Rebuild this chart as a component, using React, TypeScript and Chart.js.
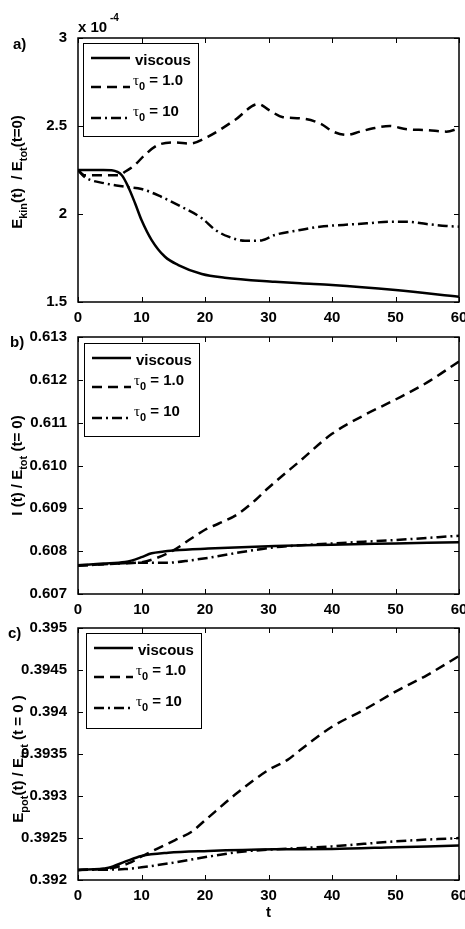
import React, { useEffect, useRef } from "react";
import { Chart, registerables } from "chart.js";
Chart.register(...registerables);

const SANS = '"Liberation Sans", Arial, Helvetica, sans-serif';
const SERIF = '"Liberation Serif", "DejaVu Serif", serif';

// ---------- x axis ----------
const X_MIN = 0;
const X_MAX = 60;
const X_STEP = 10;

// ---------- tick labels ----------
const ticksA = [1.5, 2, 2.5, 3];
const ticksB = [0.607, 0.608, 0.609, 0.61, 0.611, 0.612, 0.613];
const ticksC = [0.392, 0.3925, 0.393, 0.3935, 0.394, 0.3945, 0.395];

// ---------- legend labels ----------
const seriesNames = ["viscous", "1.0", "10"];

// ---------- panel a: E_kin(t)/E_tot(t=0), units of 1e-4 ----------
const tViscA = [0, 2, 4, 5.3, 6.9, 7.9, 9, 10, 11.6, 13.7, 15.8, 19.5, 23.1, 31, 35, 40, 50, 60];
const viscA = [2.25, 2.25, 2.25, 2.248, 2.22, 2.155, 2.06, 1.966, 1.852, 1.757, 1.71, 1.659, 1.638, 1.615, 1.606, 1.597, 1.568, 1.53];
const tTau1A = [0, 1, 3, 6.4, 7.4, 9, 10.5, 12.6, 15.3, 17.6, 20.5, 24.7, 28.4, 30.1, 32.3, 35, 38.1, 40.2, 42.3, 44.4, 46.5, 49.1, 51.8, 54.9, 58, 60];
const tau1A = [2.25, 2.22, 2.22, 2.22, 2.24, 2.28, 2.335, 2.392, 2.407, 2.4, 2.44, 2.534, 2.625, 2.59, 2.55, 2.544, 2.515, 2.468, 2.449, 2.468, 2.487, 2.5, 2.481, 2.477, 2.468, 2.487];
const tTau10A = [0, 1.1, 4.25, 7.4, 10, 13.1, 16.3, 19.5, 21.6, 23.7, 26.3, 28.9, 31, 35, 38.1, 41.8, 45.5, 49.1, 51.8, 54.9, 58, 60];
const tau10A = [2.25, 2.209, 2.174, 2.155, 2.142, 2.098, 2.041, 1.976, 1.91, 1.871, 1.848, 1.85, 1.881, 1.909, 1.928, 1.938, 1.947, 1.956, 1.956, 1.943, 1.932, 1.928];

// ---------- panel b: I(t)/E_tot(t=0) ----------
const tViscB = [0, 4, 7.4, 8.4, 10, 11.6, 13.5, 15.3, 20.5, 31, 40, 50, 60];
const viscB = [0.60767, 0.60771, 0.60775, 0.60778, 0.60786, 0.60795, 0.60799, 0.60802, 0.60806, 0.60812, 0.60815, 0.60818, 0.60821];
const tTau1B = [0, 5, 8, 10, 12, 14.8, 17.9, 20, 22.1, 25, 28, 30, 35, 40, 45, 50, 55, 60];
const tau1B = [0.60767, 0.6077, 0.60772, 0.60774, 0.60782, 0.608, 0.6083, 0.6085, 0.60864, 0.60885, 0.6092, 0.60948, 0.61011, 0.61074, 0.61117, 0.61154, 0.61194, 0.61243];
const tTau10B = [0, 10, 14.2, 17.9, 21.6, 25.8, 31, 40, 50, 60];
const tau10B = [0.60766, 0.60773, 0.60773, 0.60779, 0.60787, 0.60798, 0.60809, 0.60818, 0.60826, 0.60836];

// ---------- panel c: E_pot(t)/E_tot(t=0) ----------
const tViscC = [0, 4.8, 7.4, 10, 14.2, 20.5, 31, 40, 50, 60];
const viscC = [0.39212, 0.392146, 0.392218, 0.392286, 0.392325, 0.392345, 0.392365, 0.39237, 0.39239, 0.39241];
const tTau1C = [0, 5, 8, 10, 12.6, 15.3, 17.9, 20, 25, 30, 33, 35, 40, 45, 50, 55, 60];
const tau1C = [0.39212, 0.39214, 0.3922, 0.39228, 0.392377, 0.392476, 0.392575, 0.39271, 0.393032, 0.39331, 0.39343, 0.393548, 0.393825, 0.394024, 0.394242, 0.39444, 0.394667];
const tTau10C = [0, 7.4, 10, 15.3, 20.5, 25.8, 31, 40, 50, 60];
const tau10C = [0.39212, 0.39213, 0.392151, 0.39221, 0.392278, 0.392337, 0.392365, 0.3924, 0.39246, 0.3925];

const DASH_SOLID: number[] = [];
const DASH_DASHED = [10, 6];
const DASH_DOTDASH = [10, 4, 2, 4];

type Seg = { s: string; sub?: boolean; sup?: boolean; serif?: boolean };

function segFont(g: Seg, base: number) {
  const size = g.sub || g.sup ? Math.round(base * 0.72) : base;
  if (g.serif) return `${size}px ${SERIF}`;
  return `bold ${size}px ${SANS}`;
}

function measureSegs(ctx: CanvasRenderingContext2D, segs: Seg[], base: number) {
  let w = 0;
  for (const g of segs) {
    ctx.font = segFont(g, base);
    w += ctx.measureText(g.s).width;
  }
  return w;
}

function drawSegs(ctx: CanvasRenderingContext2D, segs: Seg[], x: number, y: number, base: number) {
  let cx = x;
  for (const g of segs) {
    ctx.font = segFont(g, base);
    const dy = g.sub ? base * 0.36 : g.sup ? -base * 0.55 : 0;
    ctx.fillText(g.s, cx, y + dy);
    cx += ctx.measureText(g.s).width;
  }
  return cx - x;
}

type PanelSpec = {
  top: number;
  height: number;
  padTop: number;
  xAxisH: number;
  yMin: number;
  yMax: number;
  yTicks: number[];
  fmt: (v: number) => string;
  series: { t: number[]; v: number[]; dash: number[] }[];
  label: string;
  labelX: number;
  labelY: number;
  title: Seg[];
  titleX: number;
  titleDY: number;
  legendDX: number;
  legendDY: number;
  legendH: number;
  exponent?: boolean;
  xTitle?: string;
};

const panels: PanelSpec[] = [
  {
    top: 0,
    height: 330,
    padTop: 38,
    xAxisH: 28,
    yMin: 1.5,
    yMax: 3,
    yTicks: ticksA,
    fmt: (v) => String(Number(v.toFixed(2))),
    series: [
      { t: tViscA, v: viscA, dash: DASH_SOLID },
      { t: tTau1A, v: tau1A, dash: DASH_DASHED },
      { t: tTau10A, v: tau10A, dash: DASH_DOTDASH },
    ],
    label: "a)",
    labelX: 13,
    labelY: 49,
    title: [{ s: "E" }, { s: "kin", sub: true }, { s: "(t)  / E" }, { s: "tot", sub: true }, { s: "(t=0)" }],
    titleX: 22,
    titleDY: 2,
    legendDX: 5,
    legendDY: 5,
    legendH: 93,
    exponent: true,
  },
  {
    top: 330,
    height: 290,
    padTop: 7,
    xAxisH: 26,
    yMin: 0.607,
    yMax: 0.613,
    yTicks: ticksB,
    fmt: (v) => v.toFixed(3),
    series: [
      { t: tViscB, v: viscB, dash: DASH_SOLID },
      { t: tTau1B, v: tau1B, dash: DASH_DASHED },
      { t: tTau10B, v: tau10B, dash: DASH_DOTDASH },
    ],
    label: "b)",
    labelX: 10,
    labelY: 17,
    title: [{ s: "I (t) / E" }, { s: "tot", sub: true }, { s: " (t= 0)" }],
    titleX: 22,
    titleDY: 0,
    legendDX: 6,
    legendDY: 6,
    legendH: 93,
  },
  {
    top: 620,
    height: 309,
    padTop: 8,
    xAxisH: 49,
    yMin: 0.392,
    yMax: 0.395,
    yTicks: ticksC,
    fmt: (v) => String(Number(v.toFixed(4))),
    series: [
      { t: tViscC, v: viscC, dash: DASH_SOLID },
      { t: tTau1C, v: tau1C, dash: DASH_DASHED },
      { t: tTau10C, v: tau10C, dash: DASH_DOTDASH },
    ],
    label: "c)",
    labelX: 8,
    labelY: 18,
    title: [{ s: "E" }, { s: "pot", sub: true }, { s: "(t) / E" }, { s: "tot", sub: true }, { s: " (t = 0 )" }],
    titleX: 23,
    titleDY: 5,
    legendDX: 8,
    legendDY: 5,
    legendH: 95,
    xTitle: "t",
  },
];

function makeDecor(spec: PanelSpec) {
  return {
    id: "decor",
    afterDatasetsDraw(chart: any) {
      const ctx: CanvasRenderingContext2D = chart.ctx;
      const ca = chart.chartArea;
      const sx = chart.scales.x;
      const sy = chart.scales.y;
      ctx.save();
      ctx.fillStyle = "#000";
      ctx.strokeStyle = "#000";
      ctx.setLineDash([]);

      // inward tick marks on all four sides
      ctx.lineWidth = 1;
      ctx.beginPath();
      for (const tk of sx.ticks) {
        const px = Math.round(sx.getPixelForValue(tk.value)) + 0.5;
        ctx.moveTo(px, ca.bottom);
        ctx.lineTo(px, ca.bottom - 5);
        ctx.moveTo(px, ca.top);
        ctx.lineTo(px, ca.top + 5);
      }
      for (const tk of sy.ticks) {
        const py = Math.round(sy.getPixelForValue(tk.value)) + 0.5;
        ctx.moveTo(ca.left, py);
        ctx.lineTo(ca.left + 5, py);
        ctx.moveTo(ca.right, py);
        ctx.lineTo(ca.right - 5, py);
      }
      ctx.stroke();

      // frame
      ctx.lineWidth = 1.5;
      ctx.strokeRect(ca.left, ca.top, ca.right - ca.left, ca.bottom - ca.top);

      // legend
      const bx = ca.left + spec.legendDX;
      const by = ca.top + spec.legendDY;
      const bw = 115;
      const bh = spec.legendH;
      ctx.fillStyle = "#fff";
      ctx.fillRect(bx, by, bw, bh);
      ctx.lineWidth = 1;
      ctx.strokeStyle = "#000";
      ctx.strokeRect(bx + 0.5, by + 0.5, bw, bh);
      const rows = [
        { ly: 15, ty: 22, dash: DASH_SOLID, segs: [{ s: seriesNames[0] }] as Seg[] },
        { ly: 44, ty: 42, dash: DASH_DASHED, segs: [{ s: "τ", serif: true }, { s: "0", sub: true }, { s: " = " + seriesNames[1] }] as Seg[] },
        { ly: 75, ty: 73, dash: DASH_DOTDASH, segs: [{ s: "τ", serif: true }, { s: "0", sub: true }, { s: " = " + seriesNames[2] }] as Seg[] },
      ];
      ctx.fillStyle = "#000";
      for (const r of rows) {
        ctx.lineWidth = 2.5;
        ctx.setLineDash(r.dash);
        ctx.beginPath();
        ctx.moveTo(bx + 8, by + r.ly);
        ctx.lineTo(bx + 47, by + r.ly);
        ctx.stroke();
        ctx.setLineDash([]);
        ctx.textAlign = "left";
        ctx.textBaseline = "alphabetic";
        drawSegs(ctx, r.segs, bx + (r.segs.length > 1 ? 50 : 52), by + r.ty, 15);
      }

      // panel label
      ctx.textAlign = "left";
      ctx.textBaseline = "alphabetic";
      ctx.font = `bold 15px ${SANS}`;
      ctx.fillText(spec.label, spec.labelX, spec.labelY);

      // exponent
      if (spec.exponent) {
        ctx.font = `bold 15px ${SANS}`;
        ctx.fillText("x 10", 78, 32);
        ctx.font = `bold 10px ${SANS}`;
        ctx.fillText("-4", 110, 21);
      }

      // y-axis title
      const w = measureSegs(ctx, spec.title, 15);
      const cy = (ca.top + ca.bottom) / 2 + spec.titleDY;
      ctx.save();
      ctx.translate(spec.titleX, cy);
      ctx.rotate(-Math.PI / 2);
      drawSegs(ctx, spec.title, -w / 2, 0, 15);
      ctx.restore();

      // x-axis title
      if (spec.xTitle) {
        ctx.font = `bold 15px ${SANS}`;
        ctx.textAlign = "center";
        ctx.fillText(spec.xTitle, (ca.left + ca.right) / 2, ca.bottom + 37);
      }
      ctx.restore();
    },
  };
}

function Panel({ spec }: { spec: PanelSpec }) {
  const ref = useRef<HTMLCanvasElement>(null);
  useEffect(() => {
    const font = { family: SANS, size: 15, weight: "bold" as const };
    const chart = new Chart(ref.current as HTMLCanvasElement, {
      type: "line",
      data: {
        datasets: spec.series.map((s, i) => ({
          label: seriesNames[i],
          data: s.t.map((x, j) => ({ x, y: s.v[j] })),
          borderColor: "#000",
          backgroundColor: "#000",
          borderWidth: 2.5,
          borderDash: s.dash,
          pointRadius: 0,
          fill: false,
          cubicInterpolationMode: "monotone" as const,
        })),
      },
      options: {
        animation: false,
        responsive: false,
        maintainAspectRatio: false,
        devicePixelRatio: 1,
        events: [],
        layout: { padding: { top: spec.padTop, right: 6, left: 0, bottom: 0 } },
        plugins: { legend: { display: false }, tooltip: { enabled: false } },
        scales: {
          x: {
            type: "linear",
            min: X_MIN,
            max: X_MAX,
            grid: { display: false },
            border: { display: false },
            ticks: { stepSize: X_STEP, font, color: "#000", padding: -1, maxRotation: 0, autoSkip: false },
            afterFit: (s: any) => {
              s.height = spec.xAxisH;
              s.paddingLeft = 0;
              s.paddingRight = 0;
            },
          },
          y: {
            type: "linear",
            min: spec.yMin,
            max: spec.yMax,
            grid: { display: false },
            border: { display: false },
            afterBuildTicks: (s: any) => {
              s.ticks = spec.yTicks.map((v) => ({ value: v }));
            },
            ticks: {
              font,
              color: "#000",
              padding: 3,
              autoSkip: false,
              callback: (v: any) => spec.fmt(Number(v)),
            },
            afterFit: (s: any) => {
              s.width = 78;
              s.paddingTop = 0;
              s.paddingBottom = 0;
            },
          },
        },
      },
      plugins: [makeDecor(spec)],
    } as any);
    return () => chart.destroy();
  }, [spec]);
  return (
    <canvas
      ref={ref}
      width={465}
      height={spec.height}
      style={{ position: "absolute", left: 0, top: spec.top, width: 465, height: spec.height, display: "block" }}
    />
  );
}

export default function App() {
  return (
    <div
      style={{
        position: "fixed",
        left: 0,
        top: 0,
        width: 465,
        height: 929,
        overflow: "hidden",
        background: "#fff",
      }}
    >
      {panels.map((p, i) => (
        <Panel key={i} spec={p} />
      ))}
    </div>
  );
}
